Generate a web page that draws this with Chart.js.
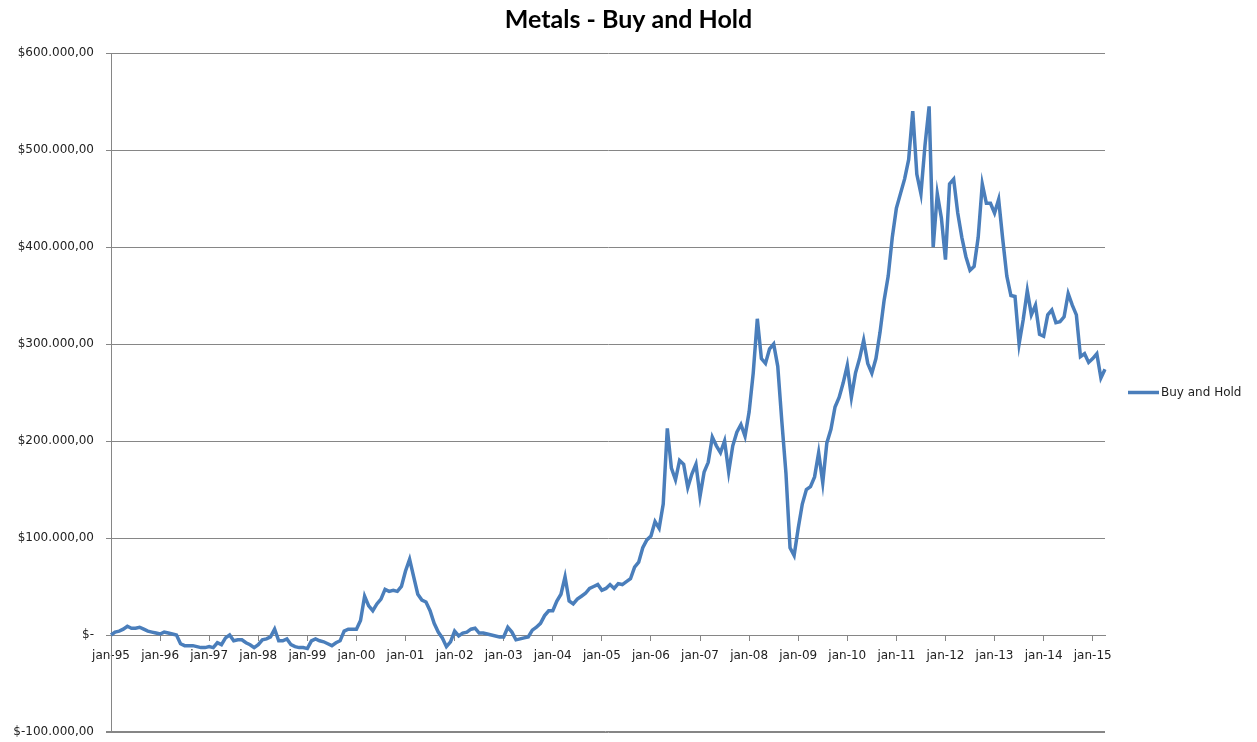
<!DOCTYPE html>
<html lang="en">
<head>
  <meta charset="UTF-8" />
  <title>Metals - Buy and Hold</title>
  <script src="https://cdn.jsdelivr.net/npm/chart.js"></script>
  <style>
    html, body { margin: 0; padding: 0; background: #fff; }
    #wrap { width: 1257px; height: 742px; }
  </style>
</head>
<body>
  <div id="wrap"><canvas id="metalsChart"></canvas></div>

  <script>
    // month-end portfolio value, one array per year
    const monthNames = ['jan', 'feb', 'mar', 'apr', 'may', 'jun', 'jul', 'aug', 'sep', 'oct', 'nov', 'dec'];
    const years = [1995, 1996, 1997, 1998, 1999, 2000, 2001, 2002, 2003, 2004, 2005,
                   2006, 2007, 2008, 2009, 2010, 2011, 2012, 2013, 2014, 2015];
    const yearTicks = ['jan-95', 'jan-96', 'jan-97', 'jan-98', 'jan-99', 'jan-00', 'jan-01',
                       'jan-02', 'jan-03', 'jan-04', 'jan-05', 'jan-06', 'jan-07', 'jan-08',
                       'jan-09', 'jan-10', 'jan-11', 'jan-12', 'jan-13', 'jan-14', 'jan-15'];
    const yMin = -100000;
    const yMax = 600000;
    const yStep = 100000;

    const hold1995 = [0, 3000, 4000, 6000, 9000, 7000, 7000, 8000, 6000, 4000, 3000, 2000];
    const hold1996 = [1000, 3000, 2000, 1000, 0, -9000, -11000, -11000, -11000, -12000, -13000, -13000];
    const hold1997 = [-12000, -13000, -8000, -10000, -3000, 0, -6000, -5000, -5000, -8000, -10000, -13000];
    const hold1998 = [-10000, -5000, -4000, -2000, 6000, -6000, -6000, -4000, -10000, -12000, -13000, -13000];
    const hold1999 = [-14000, -6000, -4000, -6000, -7000, -9000, -11000, -8000, -6000, 4000, 6000, 6000];
    const hold2000 = [6000, 15000, 40000, 30000, 25000, 32000, 37000, 47000, 45000, 46000, 45000, 50000];
    const hold2001 = [66000, 78000, 60000, 42000, 36000, 34000, 25000, 12000, 3000, -3000, -12000, -7000];
    const hold2002 = [4000, -1000, 2000, 3000, 6000, 7000, 2000, 2000, 1000, 0, -1000, -2000];
    const hold2003 = [-2000, 8000, 3000, -5000, -4000, -3000, -2000, 5000, 8000, 12000, 20000, 25000];
    const hold2004 = [25000, 35000, 42000, 60000, 35000, 32000, 37000, 40000, 43000, 48000, 50000, 52000];
    const hold2005 = [46000, 48000, 52000, 48000, 53000, 52000, 55000, 58000, 70000, 75000, 90000, 98000];
    const hold2006 = [102000, 117000, 110000, 135000, 213000, 172000, 160000, 180000, 176000, 152000, 166000, 176000];
    const hold2007 = [143000, 168000, 178000, 204000, 195000, 188000, 200000, 168000, 195000, 209000, 217000, 205000];
    const hold2008 = [230000, 270000, 326000, 285000, 280000, 295000, 300000, 277000, 220000, 167000, 90000, 82000];
    const hold2009 = [110000, 135000, 150000, 153000, 163000, 188000, 157000, 198000, 212000, 235000, 245000, 260000];
    const hold2010 = [278000, 245000, 270000, 285000, 304000, 280000, 270000, 285000, 312000, 345000, 370000, 410000];
    const hold2011 = [440000, 455000, 470000, 490000, 540000, 475000, 455000, 505000, 545000, 400000, 455000, 430000];
    const hold2012 = [387000, 465000, 470000, 435000, 410000, 390000, 376000, 380000, 410000, 465000, 445000, 445000];
    const hold2013 = [435000, 449000, 408000, 370000, 350000, 349000, 300000, 325000, 355000, 330000, 340000, 310000];
    const hold2014 = [308000, 330000, 335000, 322000, 323000, 328000, 352000, 340000, 330000, 287000, 290000, 281000];
    const hold2015 = [285000, 290000, 265000, 274000];

    const holdByYear = [hold1995, hold1996, hold1997, hold1998, hold1999, hold2000, hold2001,
                        hold2002, hold2003, hold2004, hold2005, hold2006, hold2007, hold2008,
                        hold2009, hold2010, hold2011, hold2012, hold2013, hold2014, hold2015];

    const labels = [];
    const values = [];
    holdByYear.forEach((row, i) => {
      const yy = String(years[i]).slice(2);
      row.forEach((v, m) => {
        labels.push(monthNames[m] + '-' + yy);
        values.push(v);
      });
    });

    function money(v) {
      if (v === 0) return '$-';
      const abs = Math.abs(v).toString().replace(/\B(?=(\d{3})+(?!\d))/g, '.');
      return '$' + (v < 0 ? '-' : '') + abs + ',00';
    }

    const chartTitle = 'Metals - Buy and Hold';
    const gridGray = '#868686';
    const textColor = '#222';
    const tickFont = { family: 'DejaVu Sans', size: 12 };

    // title centred on the whole canvas, single-entry legend right of the plot,
    // and the gridline along the bottom edge of the plot
    const frame = {
      id: 'frame',
      beforeDatasetsDraw(chart) {
        const { ctx, chartArea, scales } = chart;
        const yb = Math.round(scales.y.getPixelForValue(yMin)) - 0.5;
        ctx.save();
        ctx.strokeStyle = gridGray;
        ctx.lineWidth = 1;
        ctx.beginPath();
        ctx.moveTo(chartArea.left - 5, yb);
        ctx.lineTo(chartArea.right, yb);
        ctx.stroke();
        ctx.restore();
      },
      afterDraw(chart) {
        const { ctx, chartArea } = chart;
        const ds = chart.data.datasets[0];
        ctx.save();

        ctx.fillStyle = '#000';
        ctx.font = 'bold 25px Lato';
        ctx.textAlign = 'center';
        ctx.textBaseline = 'alphabetic';
        ctx.fillText(chartTitle, chart.width / 2, 28);

        const y = (chartArea.top + chartArea.bottom) / 2;
        const x = chartArea.right + 23;
        ctx.strokeStyle = ds.borderColor;
        ctx.lineWidth = ds.borderWidth;
        ctx.beginPath();
        ctx.moveTo(x, y);
        ctx.lineTo(x + 31, y);
        ctx.stroke();
        ctx.fillStyle = textColor;
        ctx.font = tickFont.size + 'px "' + tickFont.family + '"';
        ctx.textAlign = 'left';
        ctx.textBaseline = 'middle';
        ctx.fillText(ds.label, x + 33, y);
        ctx.restore();
      }
    };

    new Chart(document.getElementById('metalsChart'), {
      type: 'line',
      data: {
        labels,
        datasets: [{
          label: 'Buy and Hold',
          data: values,
          borderColor: '#4a7ebb',
          backgroundColor: '#4a7ebb',
          borderWidth: 3.5,
          pointRadius: 0,
          tension: 0
        }]
      },
      options: {
        responsive: true,
        maintainAspectRatio: false,
        animation: false,
        layout: { padding: { top: 53, right: 152, bottom: 10, left: 0 } },
        plugins: {
          title: { display: false },
          legend: { display: false },
          tooltip: { enabled: false }
        },
        scales: {
          x: {
            type: 'category',
            position: { y: 0 },
            offset: false,
            grid: { drawOnChartArea: false, color: gridGray, tickLength: 5 },
            border: { color: gridGray },
            afterBuildTicks: (scale) => {
              scale.ticks = scale.ticks.filter(t => t.value % 12 === 0);
            },
            ticks: {
              autoSkip: false,
              maxRotation: 0,
              color: textColor,
              font: tickFont,
              padding: 9,
              callback: (val, i) => yearTicks[i]
            }
          },
          y: {
            min: yMin,
            max: yMax,
            afterFit: (scale) => {
              scale.width = 111;
              scale.paddingTop = 8;
              scale.paddingBottom = 8;
            },
            grid: { color: gridGray, tickLength: 5 },
            border: { color: gridGray },
            ticks: {
              stepSize: yStep,
              color: textColor,
              font: tickFont,
              padding: 12,
              callback: (v) => money(v)
            }
          }
        }
      },
      plugins: [frame]
    });
  </script>
</body>
</html>
